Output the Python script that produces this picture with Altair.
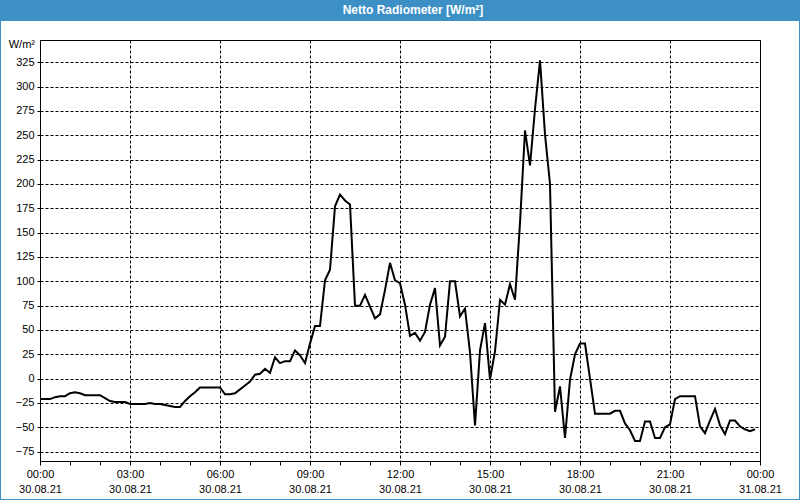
import altair as alt
import pandas as pd

# Netto Radiometer, 10-minute samples from 30.08.21 00:00 to 23:50 (W/m²)
values = [
    -21, -21, -21, -19, -18, -18, -15, -14, -15, -17, -17, -17,   # 00:00-01:50
    -17, -20, -23, -24, -24, -24, -26, -26, -26, -26, -25, -26,   # 02:00-03:50
    -26, -27, -28, -29, -29, -23, -18, -14, -9, -9, -9, -9,       # 04:00-05:50
    -9, -16, -16, -15, -11, -7, -3, 4, 5, 10, 6, 22,              # 06:00-07:50
    16, 18, 18, 29, 24, 16, 36, 54, 54, 101, 112, 177,            # 08:00-09:50
    189, 183, 179, 75, 75, 86, 74, 62, 66, 91, 119, 101,          # 10:00-11:50
    98, 76, 44, 47, 39, 48, 76, 93, 34, 43, 100, 100,             # 12:00-13:50
    64, 72, 27, -48, 29, 57, -1, 28, 81, 76, 97, 81,              # 14:00-15:50
    160, 255, 219, 277, 327, 251, 200, -34, -8, -61, -1, 25,      # 16:00-17:50
    36, 36, 0, -36, -36, -36, -36, -33, -33, -46, -53, -64,       # 18:00-19:50
    -64, -44, -44, -61, -61, -50, -47, -21, -18, -18, -18, -18,   # 20:00-21:50
    -49, -56, -43, -31, -48, -57, -43, -43, -49, -52, -54, -52,   # 22:00-23:50
]
minutes = list(range(0, 10 * len(values), 10))

y_ticks = list(range(-75, 326, 25))
x_ticks = list(range(0, 1441, 60))
dates = ["30.08.21", "31.08.21"]
title_text = "Netto Radiometer [W/m²]"
unit_text = "W/m²"

df = pd.DataFrame({"t": minutes, "v": values})
one = pd.DataFrame({"a": [0]})

FONT = "Liberation Sans"
BLUE = "#3c90c6"

label_expr = (
    "datum.value % 180 === 0 ? ["
    "(floor(datum.value/60)%24 < 10 ? '0' : '') + (floor(datum.value/60)%24) + ':00', "
    f"datum.value >= 1440 ? '{dates[1]}' : '{dates[0]}'] : ''"
)

x_enc = alt.X(
    "t:Q",
    scale=alt.Scale(domain=[0, 1440], nice=False, zero=False),
    axis=alt.Axis(
        values=x_ticks,
        title=None,
        labelExpr=label_expr,
        labelFlush=False,
        labelOverlap=False,
        labelFont=FONT,
        labelFontSize=11,
        labelColor="black",
        labelLineHeight=15,
        labelPadding=3,
        tickSize=4,
        tickColor="black",
        domain=False,
        grid=True,
        gridColor="black",
        gridDash=[3, 2],
        gridWidth=1,
        gridOpacity={"condition": {"test": "datum.value % 180 === 0", "value": 1}, "value": 0},
    ),
)

y_enc = alt.Y(
    "v:Q",
    scale=alt.Scale(domain=[-84.6, 347.9], nice=False, zero=False),
    axis=alt.Axis(
        values=y_ticks,
        title=None,
        labelFont=FONT,
        labelFontSize=11,
        labelColor="black",
        labelPadding=3,
        tickSize=3,
        tickColor="black",
        domain=False,
        grid=True,
        gridColor="black",
        gridDash=[3, 2],
        gridWidth=1,
    ),
)

line = alt.Chart(df).mark_line(color="black", strokeWidth=2).encode(x=x_enc, y=y_enc)

title_bar = alt.Chart(one).mark_rect(color=BLUE).encode(
    x=alt.value(-40), x2=alt.value(760), y=alt.value(-40), y2=alt.value(-19)
)
title = alt.Chart(one).mark_text(
    text=title_text, font=FONT, fontSize=12, fontWeight="bold", color="white",
    align="center", baseline="middle",
).encode(x=alt.value(373), y=alt.value(-30))

frame = alt.Chart(one).mark_rect(fill=None, stroke=BLUE, strokeWidth=2).encode(
    x=alt.value(-40), x2=alt.value(760), y=alt.value(-40), y2=alt.value(460)
)

unit = alt.Chart(one).mark_text(
    text=unit_text, font=FONT, fontSize=11, color="black", align="right", baseline="middle"
).encode(x=alt.value(-5), y=alt.value(5))

chart = (
    alt.layer(title_bar, title, frame, unit, line)
    .properties(
        width=720,
        height=421,
        padding={"left": 40, "top": 40, "right": 40, "bottom": 39},
        autosize=alt.AutoSizeParams(type="none"),
        background="white",
    )
    .configure_view(stroke="black", strokeWidth=1)
)

chart.save("out.html", embed_options={"renderer": "svg", "actions": False})
